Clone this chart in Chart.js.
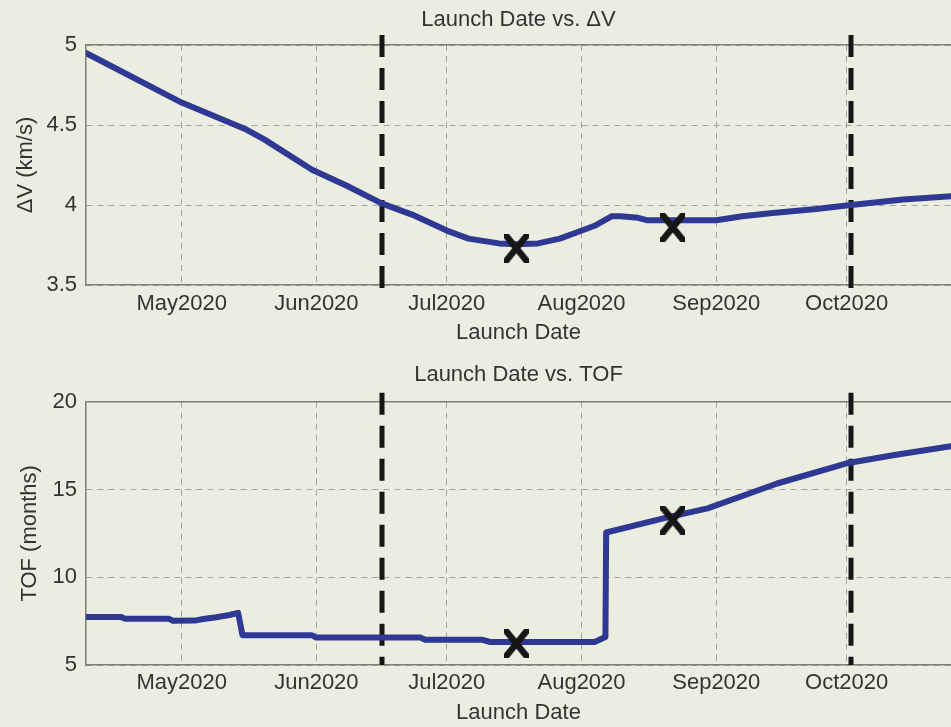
<!DOCTYPE html>
<html>
<head>
<meta charset="utf-8">
<script src="https://cdn.jsdelivr.net/npm/chart.js@4/dist/chart.umd.min.js"></script>
<style>
  html, body { margin: 0; padding: 0; background: #ebede1; overflow: hidden; }
  canvas { display: block; }
</style>
</head>
<body>
<canvas id="dvChart" width="951" height="363"></canvas>
<canvas id="tofChart" width="951" height="364"></canvas>
<script>
// ---- data ----
const dateRange = ['2020-04-09', '2020-10-25'];
const monthTicks = ['2020-05-01', '2020-06-01', '2020-07-01', '2020-08-01', '2020-09-01', '2020-10-01'];
const monthLabels = ['May2020', 'Jun2020', 'Jul2020', 'Aug2020', 'Sep2020', 'Oct2020'];

const dvDates = ['2020-04-09', '2020-05-01', '2020-05-09', '2020-05-16', '2020-05-20', '2020-05-31',
  '2020-06-08', '2020-06-16', '2020-06-23', '2020-07-01', '2020-07-06', '2020-07-13', '2020-07-17',
  '2020-07-22', '2020-07-27', '2020-07-31', '2020-08-04', '2020-08-08', '2020-08-10', '2020-08-14',
  '2020-08-16', '2020-08-22', '2020-09-01', '2020-09-07', '2020-09-14', '2020-09-24', '2020-10-02',
  '2020-10-14', '2020-10-25'];
const dvValues = [4.95, 4.64, 4.55, 4.47, 4.41, 4.22,
  4.12, 4.01, 3.94, 3.84, 3.79, 3.76, 3.755,
  3.76, 3.79, 3.83, 3.87, 3.93, 3.93, 3.92,
  3.905, 3.905, 3.905, 3.93, 3.95, 3.975, 4.0,
  4.035, 4.055];
const dvTicks = [3.5, 4, 4.5, 5];

const tofDates = ['2020-04-09', '2020-04-17', '2020-04-18', '2020-04-28', '2020-04-29', '2020-05-04',
  '2020-05-06', '2020-05-09', '2020-05-12', '2020-05-14', '2020-05-15', '2020-05-31', '2020-06-01',
  '2020-06-25', '2020-06-26', '2020-07-09', '2020-07-11', '2020-08-04', '2020-08-06T12:00Z',
  '2020-08-06T16:00Z', '2020-08-21', '2020-08-30', '2020-09-15', '2020-10-01', '2020-10-12',
  '2020-10-25'];
const tofValues = [7.74, 7.74, 7.64, 7.64, 7.52, 7.53,
  7.62, 7.72, 7.85, 7.97, 6.7, 6.69, 6.56,
  6.56, 6.44, 6.44, 6.31, 6.31, 6.6,
  12.55, 13.42, 13.92, 15.34, 16.49, 16.96,
  17.47];
const tofTicks = [5, 10, 15, 20];

const windowDates = ['2020-06-16', '2020-10-02'];
const optimumDates = ['2020-07-17', '2020-08-22'];
const optimumDV = [3.73, 3.86];
const optimumTOF = [6.22, 13.25];

// ---- helpers ----
const toDay = s => Date.parse(s.length > 10 ? s : s + 'T00:00:00Z') / 864e5;
const FONT = 'Liberation Sans, Arial, Helvetica, sans-serif';
const TEXT = '#333333';
const FRAME = '#7d8075';
const GRID = '#a3a59c';

function crossGlyph() {
  const c = document.createElement('canvas');
  c.width = 25; c.height = 29;
  const g = c.getContext('2d');
  g.strokeStyle = '#161616';
  g.lineWidth = 6.5;
  g.beginPath();
  g.moveTo(-1, -2); g.lineTo(26, 31);
  g.moveTo(26, -2); g.lineTo(-1, 31);
  g.stroke();
  return c;
}
const crossImg = crossGlyph();

const windowLines = {
  id: 'windowLines',
  beforeDatasetsDraw(chart, args, opts) {
    const { ctx, chartArea, scales: { x } } = chart;
    ctx.save();
    ctx.strokeStyle = '#161616';
    ctx.lineWidth = 5;
    ctx.setLineDash([22, 11]);
    for (const d of windowDates) {
      const px = Math.round(x.getPixelForValue(toDay(d)));
      ctx.beginPath();
      ctx.moveTo(px, chartArea.top - opts.over[0]);
      ctx.lineTo(px, chartArea.bottom + opts.over[1]);
      ctx.stroke();
    }
    ctx.restore();
  }
};

function build(id, p) {
  const xMin = toDay(dateRange[0]), xMax = toDay(dateRange[1]);
  const pts = p.dates.map((d, i) => ({ x: toDay(d), y: p.values[i] }));
  const marks = optimumDates.map((d, i) => ({ x: toDay(d), y: p.optimum[i] }));
  const monthDays = monthTicks.map(toDay);
  const font = { family: FONT, size: 22, lineHeight: 1 };

  return new Chart(document.getElementById(id), {
    type: 'scatter',
    data: {
      datasets: [
        { data: marks, pointStyle: crossImg, pointRadius: 14, order: 0 },
        { data: pts, showLine: true, borderColor: '#2f3892', borderWidth: 6, pointRadius: 0,
          tension: 0, borderJoinStyle: 'round', borderCapStyle: 'round', order: 1 }
      ]
    },
    options: {
      responsive: false,
      animation: false,
      devicePixelRatio: 1,
      layout: { padding: 0, autoPadding: false },
      plugins: {
        legend: { display: false },
        tooltip: { enabled: false },
        windowLines: { over: p.over }
      },
      scales: {
        x: {
          type: 'linear', position: 'bottom', min: xMin, max: xMax,
          afterBuildTicks: s => { s.ticks = monthDays.map(v => ({ value: v })); },
          afterFit: s => { s.height = p.xAxisH; },
          ticks: {
            font, color: TEXT, padding: p.tickPad, maxRotation: 0, autoSkip: false,
            callback: v => monthLabels[monthDays.indexOf(v)]
          },
          grid: { color: GRID, lineWidth: 1, drawTicks: false },
          border: { display: true, color: FRAME, width: 1.5, dash: [6, 5] },
          title: { display: true, text: 'Launch Date', font, color: TEXT,
                   padding: { top: 0, bottom: p.xTitlePad } }
        },
        top: {
          type: 'linear', position: 'top', min: xMin, max: xMax,
          afterFit: s => { s.height = p.topH; },
          ticks: { display: false },
          grid: { display: false },
          border: { display: true, color: FRAME, width: 1.5 },
          title: { display: true, text: p.title, font, color: TEXT,
                   padding: { top: p.titlePad, bottom: 0 } }
        },
        y: {
          type: 'linear', position: 'left', min: p.yMin, max: p.yMax,
          afterBuildTicks: s => { s.ticks = p.ticks.map(v => ({ value: v })); },
          afterFit: s => { s.width = 86; },
          ticks: { font, color: TEXT, padding: 9, callback: v => String(v) },
          grid: { color: GRID, lineWidth: 1, drawTicks: false },
          border: { display: true, color: FRAME, width: 1.5, dash: [6, 5] },
          title: { display: true, text: p.yTitle, font, color: TEXT,
                   padding: { top: p.yTitlePad, bottom: 0 } }
        }
      }
    },
    plugins: [windowLines]
  });
}

build('dvChart', {
  dates: dvDates, values: dvValues, optimum: optimumDV, ticks: dvTicks,
  yMin: 3.5, yMax: 5, yTitle: '\u0394V (km/s)', title: 'Launch Date vs. \u0394V',
  topH: 45, titlePad: 8.5, xAxisH: 78, tickPad: 8, xTitlePad: 19.5, yTitlePad: 15, over: [10, 8]
});

build('tofChart', {
  dates: tofDates, values: tofValues, optimum: optimumTOF, ticks: tofTicks,
  yMin: 5, yMax: 20, yTitle: 'TOF (months)', title: 'Launch Date vs. TOF',
  topH: 38.7, titlePad: 0.5, xAxisH: 62, tickPad: 7, xTitlePad: 3.5, yTitlePad: 19, over: [9, 0]
});
</script>
</body>
</html>
